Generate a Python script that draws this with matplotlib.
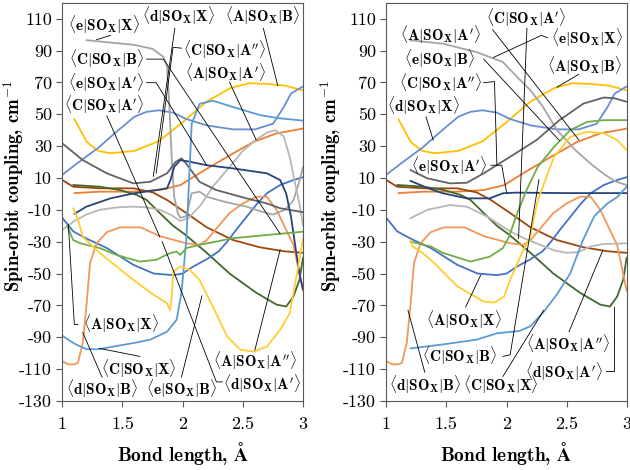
import matplotlib
matplotlib.use('Agg')
import matplotlib.pyplot as plt

plt.rcParams['mathtext.fontset'] = 'cm'
plt.rcParams['axes.unicode_minus'] = False

# --- curves that are the same in both panels ---
x_A_B = [1.1, 1.2, 1.22, 1.3, 1.4, 1.6, 1.8, 2.0, 2.2, 2.4, 2.55, 2.7, 2.85, 3.0]
y_A_B = [47, 33, 31.5, 27, 25.5, 27, 33, 45, 58, 66.5, 69.5, 69, 68, 65]

x_d_X = [1.0, 1.12, 1.3, 1.45, 1.6, 1.7, 1.8, 1.92, 2.03, 2.2, 2.42, 2.6, 2.75, 2.84, 2.9, 3.0]
y_d_X = [12, 19, 29, 39, 48.5, 51.5, 52.5, 51, 47, 43, 40.5, 40.5, 44, 54.5, 63, 67.5]

x_A_A1 = [1.1, 1.31, 1.59, 1.81, 1.98, 2.14, 2.37, 2.59, 2.78, 3.0]
y_A_A1 = [0.5, 1.4, 1.4, 2.4, 5.5, 13, 23.3, 32.7, 38, 41]

x_A_A2 = [1.0, 1.09, 1.31, 1.59, 1.75, 1.87, 2.03, 2.2, 2.42, 2.64, 2.84, 3.0]
y_A_A2 = [8.7, 4.5, 3.5, 3.5, 1, -3.8, -12, -21, -29, -33.5, -36, -37]

x_d_A1 = [1.09, 1.31, 1.48, 1.62, 1.7, 1.81, 1.92, 2.02, 2.2, 2.39, 2.61, 2.78, 2.86, 2.92, 2.97, 3.0]
y_d_A1 = [5.6, 4.5, 2.4, -0.7, -3.8, -12, -20, -25.5, -37, -50, -62, -69.5, -70.7, -64.5, -54, -40]

x_A_X = [1.0, 1.09, 1.2, 1.37, 1.59, 1.76, 1.92, 2.0, 2.09, 2.2, 2.3, 2.37, 2.45, 2.53, 2.62, 2.7, 2.81, 2.92, 3.0]
y_A_X = [-15, -23.5, -28, -34, -44.5, -50, -51, -50, -45.5, -41, -36, -30, -22, -14.5, -6, 0.4, 5.6, 8.7, 10.5]

x_d_B = [1.0, 1.05, 1.1, 1.13, 1.17, 1.2, 1.23, 1.285, 1.37, 1.48, 1.65, 1.81, 2.03, 2.14, 2.2,
         2.3, 2.39, 2.5, 2.61, 2.7, 2.78, 2.86, 2.92, 2.97, 3.0]
y_d_B = [-105, -107, -107, -106, -93.5, -70.7, -43.5, -31, -24, -21, -21, -26.5, -31, -32, -29,
         -20, -12, -6, -1.8, -1.8, -10, -22.6, -32, -50, -61]

# --- left panel only ---
xl_e_X = [1.2, 1.4, 1.6, 1.75, 1.84, 1.87, 1.89, 1.91, 1.93, 1.96, 1.98, 2.03, 2.075, 2.14, 2.2,
          2.35, 2.53, 2.65, 2.75, 2.85, 2.92, 2.97, 3.0]
yl_e_X = [96.5, 95, 93.5, 91, 86, 80, 55, 20, -2, -12, -15, -14, 0.4, 1.4, -1.8,
          -5, -8, -11, -13, -10, -4, 8, 17]

xl_C_A1 = [1.0, 1.1, 1.2, 1.31, 1.45, 1.59, 1.7, 1.81, 1.9, 1.98, 2.05, 2.15, 2.25, 2.39, 2.5,
           2.61, 2.7, 2.77, 2.84, 2.89, 2.93, 2.97, 3.0]
yl_C_A1 = [-22.6, -17, -13, -10, -8.5, -8, -8.5, -10, -13, -17, -15, -7, 4.5, 17, 27,
           34, 38.5, 40, 36, 23, 8, -6, -20]

xl_C_A2 = [1.0, 1.17, 1.37, 1.59, 1.73, 1.87, 1.94, 1.99, 2.03, 2.14, 2.28, 2.53, 2.7, 2.81, 3.0]
yl_C_A2 = [31.7, 21.2, 12.9, 6.6, 7.6, 12.9, 20, 22.3, 19, 7.6, 2.4, -2.8, -6, -9, -11.5]

xl_e_A1 = [1.1, 1.2, 1.4, 1.59, 1.78, 1.87, 1.9, 1.93, 1.98, 2.06, 2.2, 2.42, 2.7, 2.81, 2.86,
           2.9, 2.94, 2.97, 3.0]
yl_e_A1 = [-12.5, -8, -2.8, 0.3, 2.4, 3.5, 9, 17, 21.2, 20.2, 18, 16, 12.9, 8.7, 0.3,
           -14.3, -35, -50, -60]

xl_C_X = [1.0, 1.1, 1.2, 1.3, 1.45, 1.6, 1.73, 1.87, 1.95, 1.99, 2.03, 2.075, 2.14, 2.25, 2.42,
          2.64, 2.8, 3.0]
yl_C_X = [-89, -94, -97.5, -97.5, -95.5, -93.5, -91.5, -86.5, -79, -62, -29, 44, 56.5, 58.5, 54.5,
          49.5, 47.5, 46]

xl_C_B = [1.04, 1.09, 1.15, 1.31, 1.45, 1.645, 1.78, 1.895, 1.95, 1.98, 2.03, 2.14, 2.42, 2.7, 3.0]
yl_C_B = [-20, -29, -31, -34, -38.3, -42.5, -41.4, -37.2, -36.2, -38.3, -34, -32, -27.8, -25.8, -23.7]

xl_e_B = [1.09, 1.13, 1.17, 1.31, 1.59, 1.76, 1.87, 1.895, 1.91, 1.92, 1.98, 2.06, 2.14, 2.25,
          2.37, 2.48, 2.59, 2.7, 2.81, 2.89, 2.95, 3.0]
yl_e_B = [-9, -16, -27, -37, -54, -63.4, -68.6, -73, -64.4, -49, -45.6, -47.7, -54, -70.7,
          -89.5, -97.8, -99, -95.8, -85.3, -74.8, -50, -28]

# --- right panel only ---
xr_e_X = [1.2, 1.47, 1.75, 1.97, 2.08, 2.2, 2.3, 2.42, 2.58, 2.7, 2.81, 2.9, 3.0]
yr_e_X = [96.4, 94.3, 89, 82.8, 74, 65, 55, 40, 27, 19, 12.5, 8, 5.5]

xr_C_A1 = [1.2, 1.34, 1.53, 1.67, 1.84, 2.03, 2.15, 2.28, 2.4, 2.5, 2.6, 2.7, 2.8, 3.0]
yr_C_A1 = [-15.3, -10, -7, -8, -14.3, -23.5, -28, -32, -35.5, -37, -36.5, -33, -31.5, -31]

xr_C_A2 = [1.2, 1.34, 1.53, 1.67, 1.81, 2.03, 2.25, 2.44, 2.64, 2.81, 2.9, 3.0]
yr_C_A2 = [15, 9.8, 6.6, 7, 12.9, 23.3, 33.8, 46.3, 56.7, 60.5, 60, 57.8]

xr_e_A1 = [1.2, 1.35, 1.47, 1.67, 1.86, 1.97, 2.08, 2.5, 3.0]
yr_e_A1 = [8.2, 3.5, 0.4, -2.8, -2.8, 0.4, 0.8, 0.5, 0.5]

xr_C_X = [1.2, 1.47, 1.75, 1.92, 2.11, 2.2, 2.31, 2.42, 2.53, 2.63, 2.73, 2.84, 2.92, 3.0]
yr_C_X = [-97, -94.5, -91.5, -87.5, -86, -83, -74, -63, -50, -30, -14, -6, -2, 4.5]

xr_C_B = [1.2, 1.37, 1.47, 1.7, 1.86, 1.97, 2.02, 2.09, 2.17, 2.26, 2.395, 2.53, 2.67, 2.81, 3.0]
yr_C_B = [-30, -33, -37, -42.5, -39.4, -34, -27, -12, 3, 17, 29.5, 40, 45.2, 46.3, 46.3]

xr_e_B = [1.2, 1.22, 1.3, 1.4, 1.59, 1.81, 1.9, 1.98, 2.03, 2.1, 2.14, 2.19, 2.26, 2.395, 2.53,
          2.67, 2.81, 2.92, 3.0]
yr_e_B = [-29, -33, -37, -43.5, -58, -67.6, -68.2, -64.4, -54, -42, -35, -29, -4, 23.3, 35.8,
          39, 38, 33.8, 27.5]

x_ticks = [1, 1.5, 2, 2.5, 3]
x_tick_labels = ['1', '1.5', '2', '2.5', '3']
y_ticks = list(range(-130, 111, 20))

colors = {
    'A|X': '#4472C4', "A|A'": '#ED7D31', 'e|X': '#A5A5A5', 'A|B': '#FFC000',
    'C|X': '#5B9BD5', 'C|B': '#70AD47', "e|A'": '#264478', 'A|A"': '#9E480E',
    'C|A"': '#636363', "d|A'": '#43682B', 'd|X': '#698ED0', 'd|B': '#F1975A',
    "C|A'": '#B7B7B7', 'e|B': '#FFCD33',
}

left_curves = {
    'A|B': (x_A_B, y_A_B), 'd|X': (x_d_X, y_d_X), "A|A'": (x_A_A1, y_A_A1),
    'A|A"': (x_A_A2, y_A_A2), "d|A'": (x_d_A1, y_d_A1), 'A|X': (x_A_X, y_A_X),
    'd|B': (x_d_B, y_d_B), 'e|X': (xl_e_X, yl_e_X), "C|A'": (xl_C_A1, yl_C_A1),
    'C|A"': (xl_C_A2, yl_C_A2), "e|A'": (xl_e_A1, yl_e_A1), 'C|X': (xl_C_X, yl_C_X),
    'C|B': (xl_C_B, yl_C_B), 'e|B': (xl_e_B, yl_e_B),
}
right_curves = {
    'A|B': (x_A_B, y_A_B), 'd|X': (x_d_X, y_d_X), "A|A'": (x_A_A1, y_A_A1),
    'A|A"': (x_A_A2, y_A_A2), "d|A'": (x_d_A1, y_d_A1), 'A|X': (x_A_X, y_A_X),
    'd|B': (x_d_B, y_d_B), 'e|X': (xr_e_X, yr_e_X), "C|A'": (xr_C_A1, yr_C_A1),
    'C|A"': (xr_C_A2, yr_C_A2), "e|A'": (xr_e_A1, yr_e_A1), 'C|X': (xr_C_X, yr_C_X),
    'C|B': (xr_C_B, yr_C_B), 'e|B': (xr_e_B, yr_e_B),
}

# label position and leader line (data coords)
left_labels = {
    'e|X': ((1.345, 105.8), [(1.40, 99.5), (1.285, 96.8)]),
    'd|X': ((1.965, 112), [(1.935, 104), (1.756, 11)]),
    'A|B': ((2.665, 112), [(2.67, 104), (2.79, 68)]),
    'C|A"': ((2.347, 90.1), [(1.99, 91.5), (1.92, 92), (1.78, 13)]),
    'C|B': ((1.363, 84.6), [(1.70, 84.6), (1.84, 84.6), (2.81, -25)]),
    "A|A'": ((2.351, 76), [(2.39, 70), (2.61, 34)]),
    "e|A'": ((1.363, 69.8), [(1.70, 69.8), (1.78, 69.8), (2.2, 18)]),
    "C|A'": ((1.346, 55.8), [(1.37, 49), (1.81, -27)]),
    'A|X': ((1.49, -81.9), [(1.13, -82), (1.1, -82), (1.05, -19)]),
    'C|X': ((1.637, -110), [(1.645, -102), (1.31, -97)]),
    'd|B': ((1.334, -122.6), [(1.33, -115), (1.17, -87)]),
    'e|B': ((1.99, -122.6), [(1.99, -115), (2.16, -64)]),
    'A|A"': ((2.596, -105), [(2.6, -98), (2.81, -35)]),
    "d|A'": ((2.659, -119), [(2.33, -118), (2.28, -118), (1.83, -30)]),
}
right_labels = {
    "C|A'": ((2.16, 110.5), [(2.17, 104), (2.10, -28)]),
    "A|A'": ((1.45, 99.8), [(1.885, 103), (2.6, 34)]),
    'e|X': ((2.67, 98), [(2.34, 98), (2.29, 99.5), (1.89, 85.6)]),
    'e|B': ((1.44, 84.6), [(1.81, 84.6), (2.44, 33.5)]),
    'A|B': ((2.65, 80.4), [(2.6, 75), (2.42, 67)]),
    'C|A"': ((1.45, 69.8), [(1.81, 69.8), (1.9, 70.5), (1.92, 18)]),
    'd|X': ((1.31, 55.2), [(1.33, 48.4), (1.39, 33.8)]),
    "e|A'": ((1.52, 17.6), [(1.87, 18), (1.96, 18), (2.0, 1)]),
    'A|X': ((1.65, -79), [(1.66, -71), (1.785, -51)]),
    'C|B': ((1.61, -102), [(1.97, -102), (2.03, -101), (2.27, 9)]),
    'A|A"': ((2.51, -94), [(2.52, -86.5), (2.8, -35.6)]),
    "d|A'": ((2.48, -111.5), [(2.83, -111), (2.89, -111), (2.89, -70.7)]),
    'd|B': ((1.32, -119.8), [(1.32, -112), (1.18, -73)]),
    'C|X': ((1.95, -119.8), [(1.97, -114.6), (2.31, -73)]),
}


def tex_label(key):
    a, b = key.split('|')
    b = b.replace('"', "''")
    return r'$\langle\mathbf{%s}|\mathbf{SO_X}|\mathbf{%s}\rangle$' % (a, b)


fig = plt.figure(figsize=(6.3, 4.7), dpi=100)
ax_l = fig.add_axes([0.0989, 0.1468, 0.3821, 0.8474])
ax_r = fig.add_axes([0.6132, 0.1468, 0.3816, 0.8474])

for ax, curves, labels, ylab_x in [(ax_l, left_curves, left_labels, -0.152),
                                   (ax_r, right_curves, right_labels, -0.182)]:
    for key, (xs, ys) in curves.items():
        ax.plot(xs, ys, color=colors[key], lw=1.3, solid_capstyle='round')
    for key, ((tx, ty), pts) in labels.items():
        ax.plot([p[0] for p in pts], [p[1] for p in pts], color='black', lw=0.6, zorder=4)
        ax.text(tx, ty, tex_label(key), ha='center', va='center', fontsize=11, zorder=5)
    ax.set_xlim(1, 3)
    ax.set_ylim(-130, 120)
    ax.set_xticks(x_ticks)
    ax.set_xticklabels(x_tick_labels, fontfamily='cmr10', fontsize=13)
    ax.set_yticks(y_ticks)
    ax.set_yticklabels([str(v) for v in y_ticks], fontfamily='cmr10', fontsize=13)
    ax.tick_params(direction='out', length=4, width=0.8, color='#595959')
    ax.tick_params(axis='x', pad=7)
    for s in ax.spines.values():
        s.set_color('#595959')
        s.set_linewidth(0.8)
    ax.set_xlabel('Bond length, $\\mathbf{\\AA}$', fontfamily='cmb10', fontsize=14, labelpad=6)
    ax.set_ylabel('Spin-orbit coupling, cm$^{\\mathbf{-1}}$', fontfamily='cmb10', fontsize=13.5)
    ax.yaxis.set_label_coords(ylab_x, 0.54)

fig.savefig('out.png', dpi=100)
